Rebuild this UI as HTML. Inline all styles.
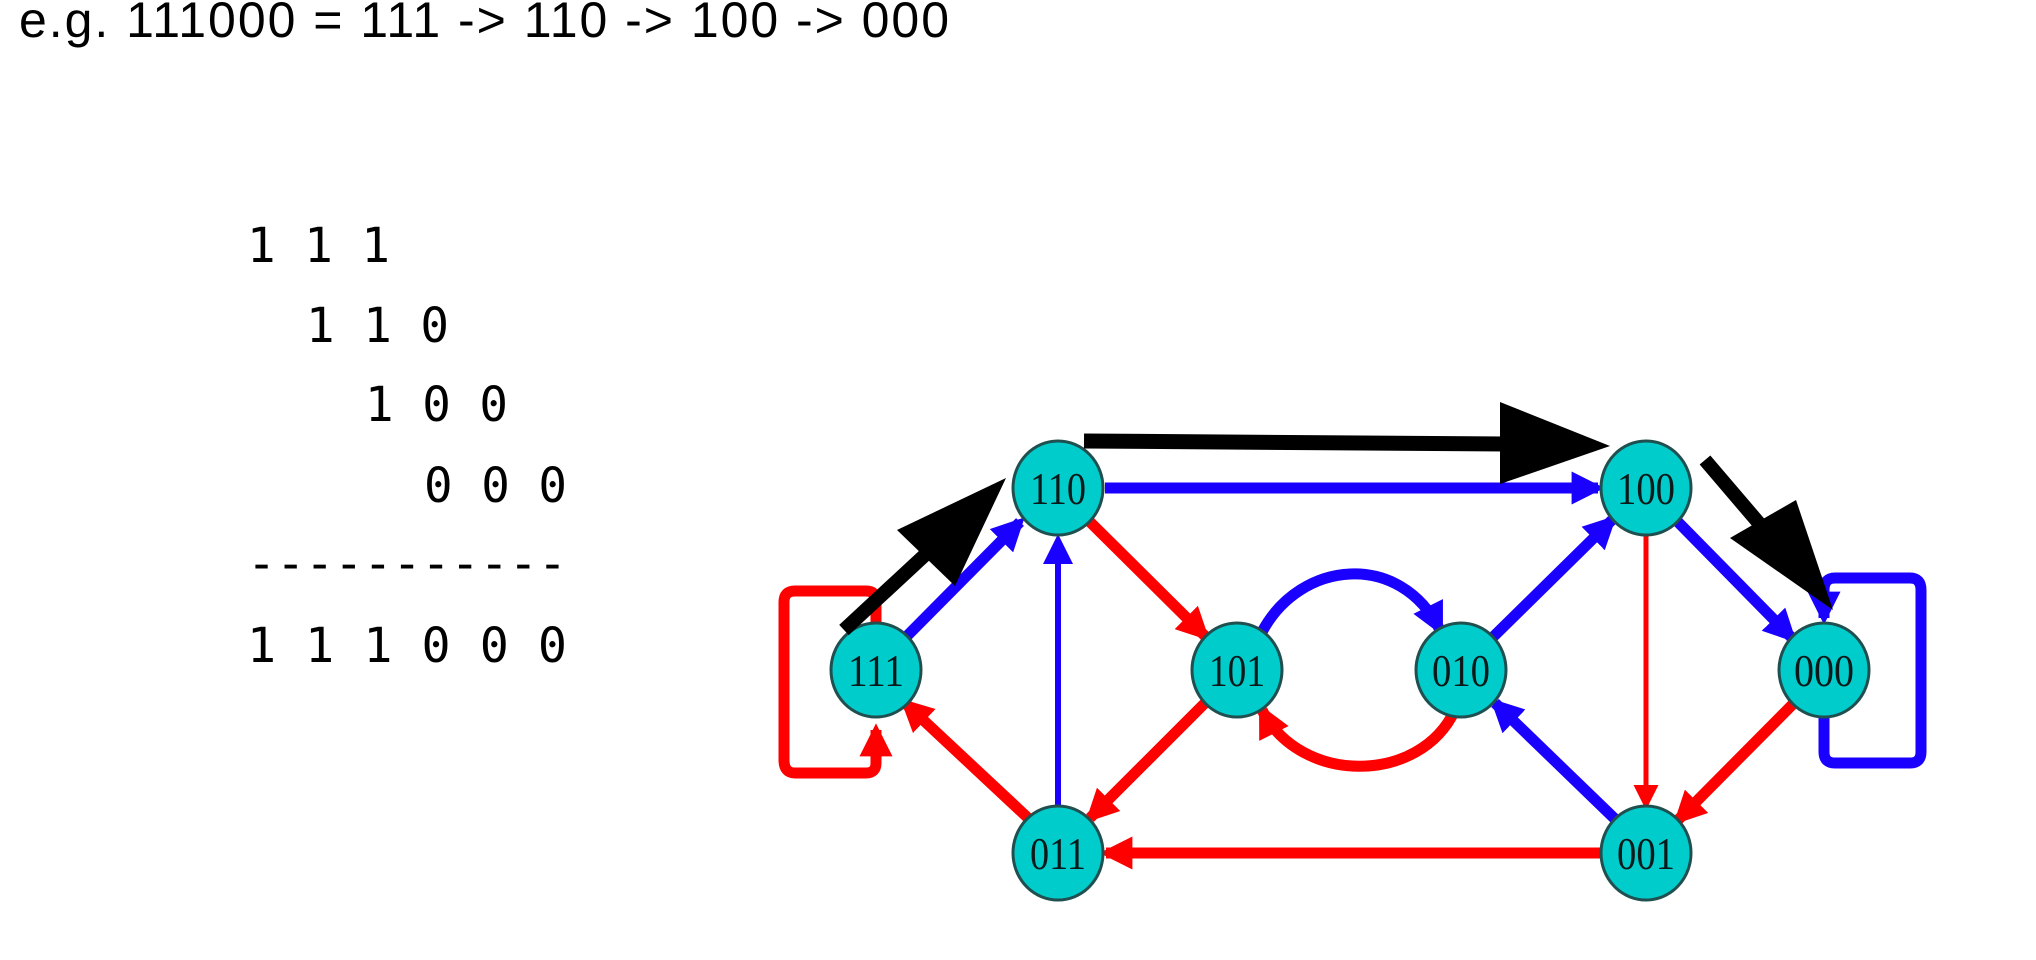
<!DOCTYPE html>
<html><head><meta charset="utf-8"><style>
html,body{margin:0;padding:0;background:#fff;}
svg{display:block;}
</style></head><body>
<svg width="2036" height="960" viewBox="0 0 2036 960" xmlns="http://www.w3.org/2000/svg">
<defs>
<marker id="mb" markerWidth="3" markerHeight="3" refX="2.4" refY="1.5" orient="auto" markerUnits="strokeWidth"><path d="M0,0 L3,1.5 L0,3 z" fill="#1a00ff"/></marker>
<marker id="mr" markerWidth="3" markerHeight="3" refX="2.4" refY="1.5" orient="auto" markerUnits="strokeWidth"><path d="M0,0 L3,1.5 L0,3 z" fill="#ff0000"/></marker>
<marker id="mbt" markerWidth="5" markerHeight="5" refX="4" refY="2.5" orient="auto" markerUnits="strokeWidth"><path d="M0,0 L5,2.5 L0,5 z" fill="#1a00ff"/></marker>
<marker id="mrt" markerWidth="5" markerHeight="5" refX="4" refY="2.5" orient="auto" markerUnits="strokeWidth"><path d="M0,0 L5,2.5 L0,5 z" fill="#ff0000"/></marker>
</defs>
<text x="19" y="37" font-family="Liberation Sans, sans-serif" font-size="50" textLength="930" lengthAdjust="spacing">e.g. 111000 = 111 -&gt; 110 -&gt; 100 -&gt; 000</text>
<g font-family="DejaVu Sans Mono, Liberation Mono, monospace" font-size="48">
<text x="247" y="262" textLength="143" lengthAdjust="spacingAndGlyphs">1 1 1</text>
<text x="306" y="342" textLength="143" lengthAdjust="spacingAndGlyphs">1 1 0</text>
<text x="365" y="421" textLength="143" lengthAdjust="spacingAndGlyphs">1 0 0</text>
<text x="424" y="502" textLength="143" lengthAdjust="spacingAndGlyphs">0 0 0</text>
<text x="247" y="580" textLength="320" lengthAdjust="spacingAndGlyphs">-----------</text>
<text x="247" y="662" textLength="320" lengthAdjust="spacingAndGlyphs">1 1 1 0 0 0</text>
</g>
<g fill="none" stroke-linecap="butt" stroke-linejoin="round">
<path d="M876,625 L876,600 Q876,591 866,591 L795,591 Q784,591 784,602 L784,760 Q784,773 795,773 L866,773 Q876,773 876,763 L876,730" stroke="#ff0000" stroke-width="11" marker-end="url(#mr)"/>
<path d="M1824,718 L1824,752 Q1824,763 1835,763 L1910,763 Q1921,763 1921,752 L1921,590 Q1921,578 1910,578 L1835,578 Q1824,578 1824,590 L1824,618" stroke="#1a00ff" stroke-width="11" marker-end="url(#mb)"/>
<line x1="905" y1="638" x2="1020" y2="522" stroke="#1a00ff" stroke-width="11" marker-end="url(#mb)"/>
<line x1="1028" y1="818" x2="905" y2="703" stroke="#ff0000" stroke-width="11" marker-end="url(#mr)"/>
<line x1="1058" y1="805" x2="1058" y2="540" stroke="#1a00ff" stroke-width="6" marker-end="url(#mbt)"/>
<line x1="1088" y1="520" x2="1205" y2="636" stroke="#ff0000" stroke-width="11" marker-end="url(#mr)"/>
<line x1="1205" y1="703" x2="1090" y2="818" stroke="#ff0000" stroke-width="11" marker-end="url(#mr)"/>
<line x1="1492" y1="638" x2="1612" y2="520" stroke="#1a00ff" stroke-width="11" marker-end="url(#mb)"/>
<line x1="1616" y1="820" x2="1495" y2="703" stroke="#1a00ff" stroke-width="11" marker-end="url(#mb)"/>
<line x1="1105" y1="488" x2="1598" y2="488" stroke="#1a00ff" stroke-width="11" marker-end="url(#mb)"/>
<line x1="1676" y1="520" x2="1792" y2="638" stroke="#1a00ff" stroke-width="11" marker-end="url(#mb)"/>
<line x1="1646" y1="536" x2="1646" y2="805" stroke="#ff0000" stroke-width="5" marker-end="url(#mrt)"/>
<line x1="1794" y1="703" x2="1678" y2="820" stroke="#ff0000" stroke-width="11" marker-end="url(#mr)"/>
<line x1="1600" y1="853" x2="1106" y2="853" stroke="#ff0000" stroke-width="11" marker-end="url(#mr)"/>
<path d="M1262,632 C1300,560 1400,550 1440,630" stroke="#1a00ff" stroke-width="11" marker-end="url(#mb)"/>
<path d="M1455,710 C1420,785 1300,785 1262,710" stroke="#ff0000" stroke-width="11" marker-end="url(#mr)"/>
</g>
<g fill="#00cccc" stroke="#1f4f4f" stroke-width="3">
<ellipse cx="876" cy="670" rx="45" ry="47"/>
<ellipse cx="1058" cy="488" rx="45" ry="47"/>
<ellipse cx="1237" cy="670" rx="45" ry="47"/>
<ellipse cx="1461" cy="670" rx="45" ry="47"/>
<ellipse cx="1646" cy="488" rx="45" ry="47"/>
<ellipse cx="1824" cy="670" rx="45" ry="47"/>
<ellipse cx="1058" cy="853" rx="45" ry="47"/>
<ellipse cx="1646" cy="853" rx="45" ry="47"/>
</g>
<g font-family="Liberation Serif, serif" font-size="46" fill="#0a1a1a" text-anchor="middle">
<text x="876" y="686" textLength="56" lengthAdjust="spacingAndGlyphs">111</text>
<text x="1058" y="504" textLength="56" lengthAdjust="spacingAndGlyphs">110</text>
<text x="1237" y="686" textLength="56" lengthAdjust="spacingAndGlyphs">101</text>
<text x="1461" y="686" textLength="58" lengthAdjust="spacingAndGlyphs">010</text>
<text x="1646" y="504" textLength="58" lengthAdjust="spacingAndGlyphs">100</text>
<text x="1824" y="686" textLength="60" lengthAdjust="spacingAndGlyphs">000</text>
<text x="1058" y="869" textLength="56" lengthAdjust="spacingAndGlyphs">011</text>
<text x="1646" y="869" textLength="58" lengthAdjust="spacingAndGlyphs">001</text>
</g>
<g fill="#000" stroke="#000">
<line x1="844" y1="630" x2="940" y2="541" stroke-width="14"/>
<polygon points="1006,478 897,530 955,586" stroke="none"/>
<line x1="1084" y1="441" x2="1505" y2="444" stroke-width="15"/>
<polygon points="1610,446 1500,402 1500,484" stroke="none"/>
<line x1="1705" y1="460" x2="1775" y2="542" stroke-width="14"/>
<polygon points="1833,610 1730,538 1796,500" stroke="none"/>
</g>
</svg>
</body></html>
